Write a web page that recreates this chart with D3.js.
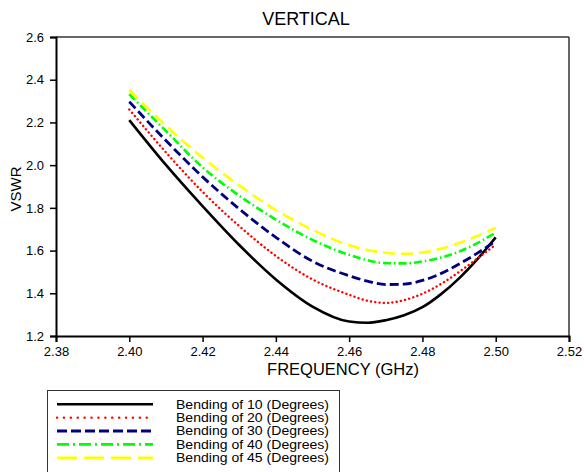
<!DOCTYPE html>
<html>
<head>
<meta charset="utf-8">
<script src="https://cdn.jsdelivr.net/npm/d3@7"></script>
<style>
  html, body { margin: 0; padding: 0; background: #fff; }
  svg { display: block; font-family: "Liberation Sans", Arial, sans-serif; }
</style>
</head>
<body>
<svg id="chart" width="584" height="472"></svg>
<script>
// ---- data ----
const freq = [2.40, 2.41, 2.42, 2.43, 2.44, 2.45, 2.46, 2.465, 2.47, 2.475, 2.48, 2.485, 2.49, 2.495, 2.50];
const bend10 = [2.211, 2.001, 1.808, 1.626, 1.465, 1.338, 1.268, 1.262, 1.274, 1.297, 1.335, 1.395, 1.470, 1.560, 1.662];
const bend20 = [2.261, 2.060, 1.875, 1.715, 1.575, 1.465, 1.393, 1.365, 1.355, 1.368, 1.398, 1.443, 1.500, 1.563, 1.628];
const bend30 = [2.297, 2.115, 1.945, 1.795, 1.662, 1.550, 1.482, 1.457, 1.441, 1.443, 1.460, 1.492, 1.537, 1.588, 1.645];
const bend40 = [2.332, 2.160, 1.990, 1.857, 1.745, 1.650, 1.580, 1.555, 1.541, 1.540, 1.549, 1.567, 1.595, 1.635, 1.684];
const bend45 = [2.352, 2.185, 2.035, 1.905, 1.790, 1.697, 1.625, 1.603, 1.590, 1.585, 1.591, 1.608, 1.635, 1.668, 1.707];
const seriesNames = ["Bending of 10 (Degrees)", "Bending of 20 (Degrees)", "Bending of 30 (Degrees)", "Bending of 40 (Degrees)", "Bending of 45 (Degrees)"];
const xTicks = [2.38, 2.40, 2.42, 2.44, 2.46, 2.48, 2.50, 2.52];
const yTicks = [1.2, 1.4, 1.6, 1.8, 2.0, 2.2, 2.4, 2.6];
const titleText = "VERTICAL";
const xLabel = "FREQUENCY (GHz)";
const yLabel = "VSWR";

// ---- styles ----
const styles = [
  { color: "#000000", width: 2.6, dash: null, legendDash: null, cap: "butt" },
  { color: "#ff0000", width: 2.4, dash: "0.1,4.2", legendDash: "0.1,6.8", cap: "round" },
  { color: "#00007f", width: 2.8, dash: "9,4", legendDash: "10,4", cap: "butt" },
  { color: "#00ff00", width: 2.6, dash: "8,3,1.5,3", legendDash: "12,4,2,4", cap: "butt" },
  { color: "#ffff00", width: 2.6, dash: "12,6", legendDash: "20,7", cap: "butt" }
];
const allSeries = [bend10, bend20, bend30, bend40, bend45];

const svg = d3.select("#chart");
const L = 56, R = 569, T = 37, B = 336;

const x = d3.scaleLinear().domain([2.38, 2.52]).range([L, R]);
const y = d3.scaleLinear().domain([1.2, 2.6]).range([B, T]);

// frame top/right
svg.append("line").attr("x1", L).attr("x2", R).attr("y1", T).attr("y2", T)
  .attr("stroke", "#333").attr("stroke-width", 1.5);
svg.append("line").attr("x1", R).attr("x2", R).attr("y1", T).attr("y2", B)
  .attr("stroke", "#333").attr("stroke-width", 1.5);

// axes
const xAxis = svg.append("g").attr("transform", `translate(0,${B})`)
  .call(d3.axisBottom(x).tickValues(xTicks).tickFormat(d3.format(".2f")).tickSize(6).tickPadding(5));
const yAxis = svg.append("g").attr("transform", `translate(${L},0)`)
  .call(d3.axisLeft(y).tickValues(yTicks).tickFormat(d3.format(".1f")).tickSize(6).tickPadding(6));
[xAxis, yAxis].forEach(g => {
  g.select(".domain").attr("stroke", "#000").attr("stroke-width", 2);
  g.selectAll(".tick line").attr("stroke", "#000").attr("stroke-width", 1.5);
  g.selectAll(".tick text").attr("fill", "#000").style("font-size", "13px")
    .style("font-family", "'Liberation Sans', Arial, sans-serif");
});

// lines
const line = d3.line().x((d, i) => x(freq[i])).y(d => y(d)).curve(d3.curveMonotoneX);
allSeries.forEach((s, k) => {
  const st = styles[k];
  svg.append("path").datum(s).attr("d", line)
    .attr("fill", "none").attr("stroke", st.color).attr("stroke-width", st.width)
    .attr("stroke-dasharray", st.dash).attr("stroke-linecap", st.cap);
});

// title & labels
svg.append("text").attr("x", 306).attr("y", 25).attr("text-anchor", "middle")
  .style("font-size", "18px").attr("fill", "#000").text(titleText);
svg.append("text").attr("x", 343).attr("y", 375).attr("text-anchor", "middle")
  .style("font-size", "16.5px").attr("fill", "#000").text(xLabel);
svg.append("text").attr("transform", "translate(21,189) rotate(-90)").attr("text-anchor", "middle")
  .style("font-size", "15px").attr("fill", "#000").text(yLabel);

// legend
svg.append("rect").attr("x", 47.5).attr("y", 390.5).attr("width", 292).attr("height", 100)
  .attr("fill", "#fff").attr("stroke", "#333").attr("stroke-width", 1);
seriesNames.forEach((name, k) => {
  const st = styles[k];
  const ly = 404.3 + k * 13.35;
  svg.append("line").attr("x1", 57).attr("x2", 153).attr("y1", ly).attr("y2", ly)
    .attr("stroke", st.color).attr("stroke-width", st.width)
    .attr("stroke-dasharray", st.legendDash).attr("stroke-linecap", st.cap);
  svg.append("text").attr("x", 176).attr("y", ly + 4.2)
    .style("font-size", "12px")
    .attr("textLength", 153).attr("lengthAdjust", "spacingAndGlyphs")
    .attr("fill", "#000").text(name);
});
</script>
</body>
</html>
